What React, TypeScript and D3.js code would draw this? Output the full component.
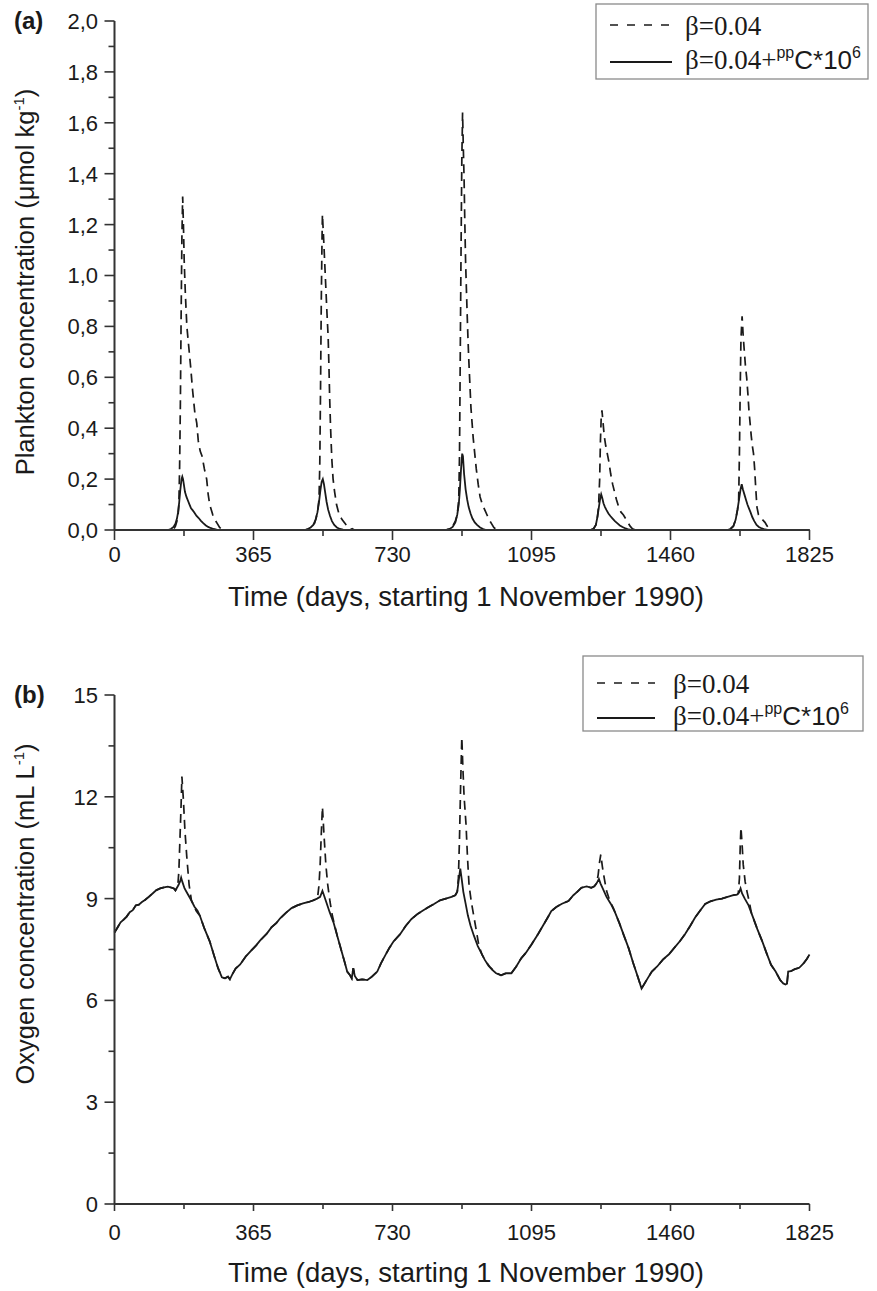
import React from "react";
import * as d3 from "d3";

type Pt = [number, number];

// ---- axis ticks ----
const dayTicks = [0, 365, 730, 1095, 1460, 1825];
const planktonTicks = [0, 0.2, 0.4, 0.6, 0.8, 1.0, 1.2, 1.4, 1.6, 1.8, 2.0];
const oxygenTicks = [0, 3, 6, 9, 12, 15];

// ---- plankton concentration (µmol kg-1), [day, value] ----
// β = 0.04 (dashed)
const planktonBase: Pt[] = [
  [0, 0], [150, 0], [156, 0.005], [160, 0.015], [164, 0.035], [167, 0.06], [169, 0.1], [171, 0.25],
  [173, 0.5], [175, 0.85], [177, 1.15], [179, 1.31], [181, 1.2], [183, 1.06], [186, 0.93], [190, 0.8],
  [195, 0.72], [200, 0.64], [205, 0.55], [211, 0.46], [216, 0.42], [220, 0.35], [225, 0.31], [230, 0.29],
  [236, 0.24], [242, 0.2], [246, 0.14], [250, 0.1], [258, 0.06], [264, 0.04], [270, 0.025], [276, 0.01], [284, 0],
  [500, 0], [510, 0.005], [518, 0.012], [525, 0.025], [530, 0.05], [534, 0.08], [537, 0.12], [539, 0.25],
  [541, 0.55], [543, 0.9], [545, 1.15], [546, 1.24], [549, 1.15], [552, 1.05], [555, 0.95], [558, 0.85],
  [561, 0.76], [563, 0.65], [565, 0.52], [567, 0.42], [569, 0.34], [571, 0.27], [574, 0.2], [578, 0.15],
  [583, 0.1], [590, 0.06], [598, 0.04], [606, 0.025], [612, 0.01], [620, 0],
  [870, 0], [880, 0.005], [888, 0.015], [895, 0.035], [900, 0.06], [904, 0.12], [906, 0.3], [908, 0.7],
  [910, 1.1], [912, 1.45], [914, 1.64], [916, 1.5], [918, 1.38], [920, 1.2], [922, 1.05], [924, 0.95],
  [926, 0.85], [928, 0.76], [930, 0.68], [933, 0.58], [936, 0.48], [939, 0.42], [942, 0.36], [946, 0.3],
  [950, 0.24], [955, 0.18], [960, 0.13], [966, 0.1], [972, 0.08], [978, 0.06], [984, 0.04], [990, 0.025],
  [996, 0.01], [1004, 0],
  [1250, 0], [1258, 0.005], [1264, 0.02], [1268, 0.05], [1271, 0.09], [1274, 0.2], [1276, 0.35], [1278, 0.44],
  [1280, 0.47], [1283, 0.42], [1286, 0.37], [1290, 0.33], [1294, 0.3], [1298, 0.27], [1303, 0.22], [1308, 0.18],
  [1313, 0.15], [1318, 0.12], [1324, 0.09], [1330, 0.07], [1336, 0.06], [1342, 0.045], [1348, 0.03],
  [1354, 0.015], [1360, 0.005], [1367, 0],
  [1610, 0], [1618, 0.005], [1625, 0.015], [1631, 0.04], [1636, 0.08], [1639, 0.12], [1641, 0.3], [1643, 0.55],
  [1645, 0.75], [1648, 0.84], [1651, 0.76], [1654, 0.7], [1657, 0.64], [1660, 0.6], [1663, 0.54], [1666, 0.47],
  [1669, 0.42], [1672, 0.37], [1675, 0.33], [1678, 0.3], [1681, 0.24], [1684, 0.16], [1687, 0.09], [1691, 0.06],
  [1696, 0.05], [1702, 0.04], [1708, 0.03], [1714, 0.015], [1720, 0.005], [1727, 0], [1825, 0],
];

// β = 0.04 + ppC·10^6 (solid)
const planktonCoupled: Pt[] = [
  [0, 0], [140, 0], [148, 0.004], [155, 0.012], [160, 0.025], [164, 0.045], [167, 0.07], [170, 0.11],
  [173, 0.16], [176, 0.2], [178, 0.21], [180, 0.2], [182, 0.18], [185, 0.15], [189, 0.13], [193, 0.115],
  [197, 0.1], [201, 0.085], [205, 0.078], [210, 0.068], [215, 0.056], [221, 0.047], [227, 0.036], [233, 0.027],
  [240, 0.018], [246, 0.012], [252, 0.008], [260, 0.004], [268, 0.001], [276, 0],
  [500, 0], [508, 0.004], [515, 0.01], [522, 0.02], [528, 0.04], [533, 0.07], [537, 0.11], [541, 0.16],
  [544, 0.19], [547, 0.2], [550, 0.18], [553, 0.15], [557, 0.11], [561, 0.08], [566, 0.055], [571, 0.035],
  [577, 0.02], [584, 0.01], [592, 0.004], [600, 0.001], [606, 0], [618, 0], [624, 0.005], [630, 0],
  [870, 0], [880, 0.004], [888, 0.012], [895, 0.03], [900, 0.06], [904, 0.1], [907, 0.16], [910, 0.24],
  [913, 0.3], [915, 0.29], [918, 0.22], [922, 0.16], [926, 0.12], [930, 0.09], [935, 0.065], [940, 0.045],
  [946, 0.03], [952, 0.02], [960, 0.01], [968, 0.004], [976, 0],
  [1250, 0], [1258, 0.005], [1264, 0.02], [1268, 0.05], [1272, 0.09], [1275, 0.12], [1278, 0.14], [1281, 0.125],
  [1284, 0.105], [1288, 0.09], [1292, 0.078], [1297, 0.065], [1302, 0.055], [1308, 0.045], [1314, 0.035],
  [1320, 0.027], [1327, 0.018], [1334, 0.012], [1342, 0.006], [1350, 0.002], [1356, 0],
  [1610, 0], [1618, 0.005], [1625, 0.015], [1631, 0.04], [1636, 0.08], [1640, 0.12], [1644, 0.16], [1647, 0.18],
  [1650, 0.16], [1654, 0.14], [1658, 0.12], [1662, 0.1], [1666, 0.085], [1670, 0.07], [1675, 0.05], [1680, 0.035],
  [1686, 0.02], [1692, 0.012], [1700, 0.006], [1708, 0.002], [1715, 0], [1825, 0],
];

// ---- oxygen concentration (mL L-1), [day, value] ----
// β = 0.04 + ppC·10^6 (solid)
const oxygenCoupled: Pt[] = [
  [0, 8.0], [8, 8.15], [16, 8.3], [24, 8.38], [32, 8.47], [40, 8.6], [48, 8.66], [56, 8.8], [64, 8.82],
  [72, 8.9], [80, 8.96], [90, 9.05], [100, 9.15], [110, 9.25], [120, 9.3], [130, 9.33], [140, 9.35],
  [150, 9.32], [156, 9.3], [160, 9.24], [164, 9.32], [168, 9.4], [172, 9.5], [175, 9.62], [178, 9.5],
  [184, 9.3], [190, 9.18], [200, 8.98], [210, 8.76], [218, 8.64], [224, 8.5], [236, 8.12], [250, 7.74],
  [262, 7.3], [272, 6.95], [282, 6.68], [290, 6.65], [298, 6.7], [303, 6.62], [310, 6.78], [318, 6.94],
  [330, 7.06], [345, 7.3], [360, 7.48], [372, 7.62], [382, 7.76], [400, 7.97], [412, 8.15], [425, 8.28],
  [435, 8.42], [450, 8.58], [465, 8.72], [480, 8.8], [495, 8.86], [510, 8.9], [522, 8.95], [532, 9.0],
  [540, 9.05], [546, 9.23], [550, 9.1], [556, 8.9], [565, 8.6], [575, 8.3], [585, 7.9], [595, 7.5],
  [605, 7.1], [611, 6.85], [618, 6.75], [623, 6.65], [627, 6.95], [631, 6.72], [638, 6.6], [650, 6.62],
  [664, 6.6], [676, 6.7], [690, 6.85], [700, 7.1], [712, 7.35], [722, 7.55], [733, 7.74], [750, 7.95],
  [765, 8.2], [780, 8.4], [796, 8.55], [810, 8.65], [825, 8.75], [839, 8.84], [855, 8.95], [870, 9.0],
  [885, 9.05], [895, 9.1], [900, 9.2], [904, 9.55], [908, 9.88], [912, 9.55], [916, 9.2], [922, 8.85],
  [928, 8.5], [935, 8.2], [944, 7.9], [954, 7.6], [963, 7.4], [972, 7.2], [982, 7.02], [992, 6.9],
  [1002, 6.8], [1015, 6.74], [1028, 6.8], [1042, 6.8], [1055, 7.0], [1068, 7.24], [1080, 7.4], [1095, 7.65],
  [1112, 7.95], [1125, 8.2], [1138, 8.45], [1147, 8.63], [1160, 8.75], [1175, 8.85], [1192, 8.93],
  [1205, 9.1], [1215, 9.2], [1226, 9.32], [1240, 9.36], [1252, 9.32], [1260, 9.36], [1266, 9.45],
  [1272, 9.58], [1276, 9.45], [1282, 9.3], [1292, 9.05], [1303, 8.85], [1313, 8.63], [1325, 8.3],
  [1338, 7.9], [1350, 7.54], [1362, 7.1], [1374, 6.7], [1384, 6.35], [1392, 6.5], [1400, 6.65], [1411, 6.85],
  [1425, 7.0], [1440, 7.2], [1456, 7.36], [1470, 7.55], [1485, 7.75], [1498, 7.95], [1512, 8.2], [1525, 8.45],
  [1538, 8.65], [1551, 8.84], [1565, 8.92], [1580, 8.97], [1595, 9.0], [1610, 9.05], [1625, 9.1], [1635, 9.12],
  [1640, 9.18], [1644, 9.3], [1648, 9.15], [1655, 9.0], [1665, 8.8], [1675, 8.5], [1688, 8.1], [1701, 7.74],
  [1712, 7.4], [1724, 7.05], [1736, 6.85], [1748, 6.6], [1756, 6.5], [1762, 6.47], [1766, 6.5], [1769, 6.85],
  [1776, 6.86], [1786, 6.92], [1798, 6.96], [1810, 7.1], [1818, 7.22], [1825, 7.35],
];

// β = 0.04 (dashed): follows the solid run except during the five spring blooms
const oxygenBaseBlooms: Pt[][] = [
  [[166, 9.35], [169, 9.8], [172, 10.8], [175, 11.8], [177, 12.6], [181, 11.9], [185, 11.0], [190, 10.2],
    [196, 9.4], [202, 8.95], [208, 8.8], [214, 8.65], [219, 8.57]],
  [[533, 9.0], [537, 9.4], [540, 10.0], [543, 10.9], [546, 11.7], [550, 10.9], [555, 10.0], [560, 9.4],
    [566, 8.9], [572, 8.5], [577, 8.26]],
  [[900, 9.2], [903, 9.6], [906, 10.8], [909, 12.4], [912, 13.75], [915, 12.8], [918, 12.0], [923, 11.2],
    [927, 10.2], [931, 9.4], [937, 8.9], [944, 8.45], [951, 8.0], [957, 7.6], [965, 7.35], [975, 7.15],
    [985, 7.0], [995, 6.88], [1005, 6.8]],
  [[1266, 9.45], [1270, 9.7], [1274, 10.1], [1277, 10.3], [1281, 9.95], [1286, 9.6], [1292, 9.23],
    [1300, 8.95], [1310, 8.72], [1318, 8.48]],
  [[1638, 9.15], [1641, 9.6], [1643, 10.5], [1645, 11.1], [1648, 10.6], [1651, 10.0], [1656, 9.5],
    [1661, 9.2], [1667, 8.9], [1672, 8.6]],
];

function withBlooms(base: Pt[], blooms: Pt[][]): Pt[] {
  const kept = base.filter(
    ([d]) => !blooms.some((b) => d >= b[0][0] && d <= b[b.length - 1][0])
  );
  return [...kept, ...blooms.flat()].sort((a, b) => a[0] - b[0]);
}

const oxygenBase = withBlooms(oxygenCoupled, oxygenBaseBlooms);

// ---- styling ----
const SANS = "'Liberation Sans', Arial, sans-serif";
const SERIF = "'Liberation Serif', 'Times New Roman', serif";
const INK = "#1a1a1a";
const AXIS = "#333";
const DASH = "9,6";

type PanelProps = {
  tag: string;
  top: number;
  bottom: number;
  yMax: number;
  yTicks: number[];
  yMinorStep: number;
  fmt: (v: number) => string;
  dashed: Pt[];
  solid: Pt[];
  yTitle: string;
  yTitleCenter: number;
  xMajorLen: number;
  xMinorLen: number;
  tickBaseline: number;
  titleBaseline: number;
  legend: { x: number; y: number; w: number; h: number; sx0: number; sx1: number; tx: number; r1: number; r2: number };
};

const LEFT = 114.5;
const RIGHT = 809.5;

function Panel(p: PanelProps) {
  const x = d3.scaleLinear().domain([0, 1825]).range([LEFT, RIGHT]);
  const y = d3.scaleLinear().domain([0, p.yMax]).range([p.bottom, p.top]);
  const line = d3
    .line<Pt>()
    .x((d) => x(d[0]))
    .y((d) => y(d[1]));

  const yMinor = d3.range(0, p.yMax + 1e-9, p.yMinorStep).filter(
    (v) => !p.yTicks.some((t) => Math.abs(t - v) < 1e-6)
  );
  const xMinor = d3.range(182.5, 1825, 365);
  const L = p.legend;

  return (
    <g>
      <text x={14} y={p.top + 8} fontFamily={SANS} fontWeight="bold" fontSize={24} fill={INK}>
        {p.tag}
      </text>

      {/* series */}
      <path d={line(p.dashed) || ""} fill="none" stroke={INK} strokeWidth={1.7} strokeDasharray={DASH} />
      <path d={line(p.solid) || ""} fill="none" stroke={INK} strokeWidth={1.8} />

      {/* axes */}
      <line x1={LEFT} x2={LEFT} y1={p.top} y2={p.bottom} stroke={AXIS} strokeWidth={2} />
      <line x1={LEFT} x2={RIGHT} y1={p.bottom} y2={p.bottom} stroke={AXIS} strokeWidth={2} />
      {p.yTicks.map((t) => (
        <g key={"yt" + t}>
          <line x1={LEFT - 10} x2={LEFT} y1={y(t)} y2={y(t)} stroke={AXIS} strokeWidth={1.6} />
          <text x={98} y={y(t)} dy="0.36em" textAnchor="end" fontFamily={SANS} fontSize={22} fill={INK}>
            {p.fmt(t)}
          </text>
        </g>
      ))}
      {yMinor.map((t) => (
        <line key={"ym" + t} x1={LEFT - 6} x2={LEFT} y1={y(t)} y2={y(t)} stroke={AXIS} strokeWidth={1.6} />
      ))}
      {dayTicks.map((t) => (
        <g key={"xt" + t}>
          <line x1={x(t)} x2={x(t)} y1={p.bottom} y2={p.bottom + p.xMajorLen} stroke={AXIS} strokeWidth={1.6} />
          <text x={x(t)} y={p.tickBaseline} textAnchor="middle" fontFamily={SANS} fontSize={22} fill={INK}>
            {t}
          </text>
        </g>
      ))}
      {xMinor.map((t) => (
        <line key={"xm" + t} x1={x(t)} x2={x(t)} y1={p.bottom} y2={p.bottom + p.xMinorLen} stroke={AXIS} strokeWidth={1.6} />
      ))}

      {/* axis titles */}
      <text x={(LEFT + RIGHT) / 2 + 4} y={p.titleBaseline} textAnchor="middle" fontFamily={SANS} fontSize={27.5} fill={INK}>
        Time (days, starting 1 November 1990)
      </text>
      <text
        transform={`translate(34,${p.yTitleCenter}) rotate(-90)`}
        textAnchor="middle"
        fontFamily={SANS}
        fontSize={25.5}
        fill={INK}
      >
        {p.yTitle}
        <tspan fontSize={15} dy={-10}>-1</tspan>
        <tspan dy={10}>)</tspan>
      </text>

      {/* legend */}
      <rect x={L.x} y={L.y} width={L.w} height={L.h} fill="#fff" stroke="#8a8a8a" strokeWidth={1.3} />
      <line x1={L.sx0} x2={L.sx1} y1={L.r1} y2={L.r1} stroke={INK} strokeWidth={1.7} strokeDasharray="8,9" />
      <line x1={L.sx0} x2={L.sx1} y1={L.r2} y2={L.r2} stroke={INK} strokeWidth={1.8} />
      <text x={L.tx} y={L.r1 + 10} fontFamily={SERIF} fontSize={27} fill={INK}>
        β=0.04
      </text>
      <text x={L.tx} y={L.r2 + 7} fontFamily={SERIF} fontSize={27} fill={INK}>
        β=0.04+
        <tspan fontFamily={SANS} fontSize={16} dy={-11}>pp</tspan>
        <tspan fontFamily={SANS} fontSize={26} dy={11}>C*10</tspan>
        <tspan fontFamily={SANS} fontSize={16} dy={-11}>6</tspan>
      </text>
    </g>
  );
}

export default function App() {
  return (
    <svg
      width={877}
      height={1291}
      viewBox="0 0 877 1291"
      style={{ position: "absolute", left: 0, top: 0, background: "#fff" }}
    >
      <rect width={877} height={1291} fill="#fff" />
      <Panel
        tag="(a)"
        top={21}
        bottom={530}
        yMax={2}
        yTicks={planktonTicks}
        yMinorStep={0.1}
        fmt={(v) => v.toFixed(1).replace(".", ",")}
        dashed={planktonBase}
        solid={planktonCoupled}
        yTitle="Plankton concentration (μmol kg"
        yTitleCenter={282}
        xMajorLen={10}
        xMinorLen={6}
        tickBaseline={562}
        titleBaseline={606}
        legend={{ x: 596, y: 4, w: 272, h: 75, sx0: 610, sx1: 672, tx: 685, r1: 25, r2: 62 }}
      />
      <Panel
        tag="(b)"
        top={695}
        bottom={1204}
        yMax={15}
        yTicks={oxygenTicks}
        yMinorStep={1.5}
        fmt={(v) => String(v)}
        dashed={oxygenBase}
        solid={oxygenCoupled}
        yTitle="Oxygen concentration (mL L"
        yTitleCenter={914}
        xMajorLen={7}
        xMinorLen={5}
        tickBaseline={1240}
        titleBaseline={1282}
        legend={{ x: 583, y: 656, w: 280, h: 75, sx0: 597, sx1: 655, tx: 673, r1: 683, r2: 718 }}
      />
    </svg>
  );
}
